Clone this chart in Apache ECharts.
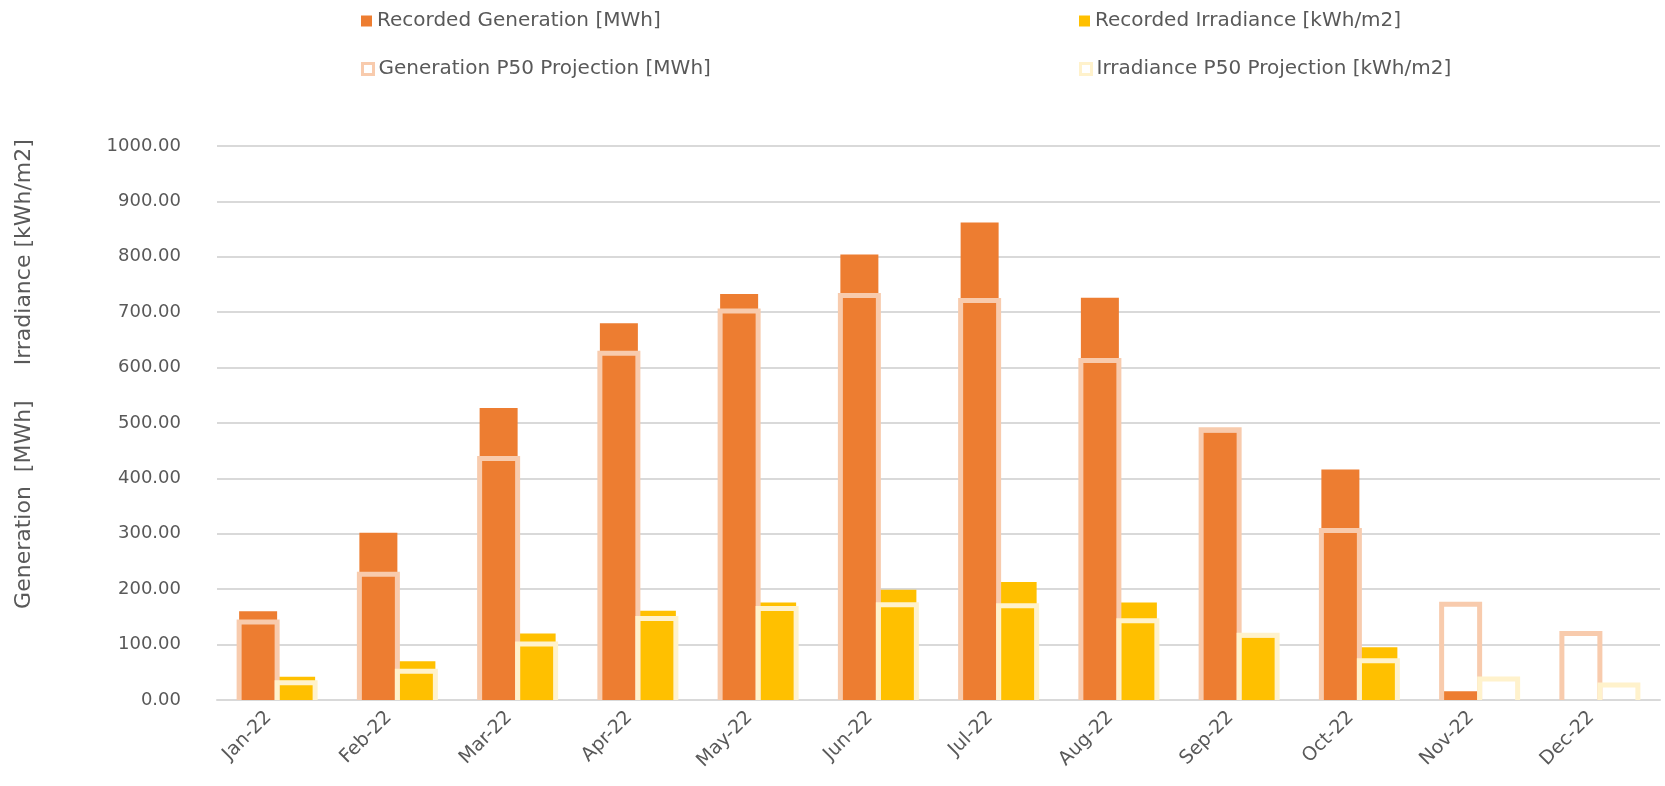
<!DOCTYPE html>
<html>
<head>
<meta charset="utf-8">
<script src="https://cdn.jsdelivr.net/npm/echarts@6/dist/echarts.min.js"></script>
<style>
  html, body { margin: 0; padding: 0; background: #fff; }
  #chart { width: 1665px; height: 786px; }
</style>
</head>
<body>
<div id="chart"></div>
<script>
// months
const months = ["Jan-22", "Feb-22", "Mar-22", "Apr-22", "May-22", "Jun-22",
                "Jul-22", "Aug-22", "Sep-22", "Oct-22", "Nov-22", "Dec-22"];
// recorded values
const genRecorded = [160, 302, 527, 680, 733, 804, 862, 726, 483, 416, 16, null];
const irrRecorded = [42, 70, 120, 161, 176, 199, 213, 176, 113, 95, null, null];
// P50 projections
const genP50 = [141, 227, 436, 626, 702, 730, 721, 613, 488, 306, 173, 120];
const irrP50 = [31, 52, 101, 147, 165, 172, 170, 143, 117, 71, 38, 27];
// y ticks
const yMin = 0, yMax = 1000, yStep = 100;

const FONT = "DejaVu Sans";
const GREY = "#595959";
const BAR_W = 38;

let chart = echarts.init(document.getElementById("chart"));

function legendAt(name, left, top, style) {
  return {
    left: left, top: top,
    itemWidth: 11, itemHeight: 11, itemGap: 4,
    icon: "rect",
    textStyle: { color: GREY, fontSize: 20, fontFamily: FONT },
    data: [{ name: name, itemStyle: style }]
  };
}

// open-bottom outline bar (projection), offset = which side of the category centre
function outlineSeries(name, values, color, offset) {
  return {
    name: name,
    type: "custom",
    z: 3,
    itemStyle: { color: color },
    data: values.map((v, i) => [i, v]),
    encode: { x: 0, y: 1 },
    renderItem: function (params, api) {
      let base = api.coord([api.value(0), 0]);
      let top = api.coord([api.value(0), api.value(1)]);
      let x0 = base[0] + offset * BAR_W;
      let x1 = x0 + BAR_W;
      return {
        type: "polyline",
        shape: { points: [[x0, base[1]], [x0, top[1]], [x1, top[1]], [x1, base[1]]] },
        style: { fill: null, stroke: color, lineWidth: 5, lineJoin: "miter" }
      };
    }
  };
}

let option = {
  animation: false,
  textStyle: { fontFamily: FONT },
  legend: [
    legendAt("Recorded Generation [MWh]", 356, 6, { color: "#ED7D31" }),
    legendAt("Recorded Irradiance [kWh/m2]", 1074, 6, { color: "#FFC000" }),
    legendAt("Generation P50 Projection [MWh]", 356, 54, { color: "#fff", borderColor: "#F8CBAD", borderWidth: 3 }),
    legendAt("Irradiance P50 Projection [kWh/m2]", 1074, 54, { color: "#fff", borderColor: "#FFF2CC", borderWidth: 3 })
  ],
  graphic: [{
    type: "text",
    x: 24, y: 374,
    rotation: Math.PI / 2,
    style: {
      text: "Generation  [MWh]     Irradiance [kWh/m2]",
      fill: GREY,
      font: "22px " + FONT,
      align: "center",
      verticalAlign: "middle"
    }
  }],
  grid: { left: 217, right: 5, top: 146, bottom: 86 },
  xAxis: {
    type: "category",
    data: months,
    axisLine: { lineStyle: { color: "#d9d9d9", width: 2 } },
    axisTick: { show: false },
    axisLabel: { rotate: 45, color: GREY, fontSize: 19, margin: 6, padding: [0, 12, 0, 0], interval: 0 }
  },
  yAxis: {
    type: "value",
    min: yMin, max: yMax, interval: yStep,
    axisLine: { show: false },
    axisTick: { show: false },
    axisLabel: {
      color: GREY, fontSize: 18, margin: 36,
      formatter: v => v.toFixed(2)
    },
    splitLine: { lineStyle: { color: "#d9d9d9", width: 2 } }
  },
  series: [
    {
      name: "Recorded Generation [MWh]", type: "bar",
      barWidth: BAR_W, barGap: "0%",
      itemStyle: { color: "#ED7D31" },
      data: genRecorded
    },
    {
      name: "Recorded Irradiance [kWh/m2]", type: "bar",
      barWidth: BAR_W, barGap: "0%",
      itemStyle: { color: "#FFC000" },
      data: irrRecorded
    },
    outlineSeries("Generation P50 Projection [MWh]", genP50, "#F8CBAD", -1),
    outlineSeries("Irradiance P50 Projection [kWh/m2]", irrP50, "#FFF2CC", 0)
  ]
};

chart.setOption(option);
</script>
</body>
</html>
